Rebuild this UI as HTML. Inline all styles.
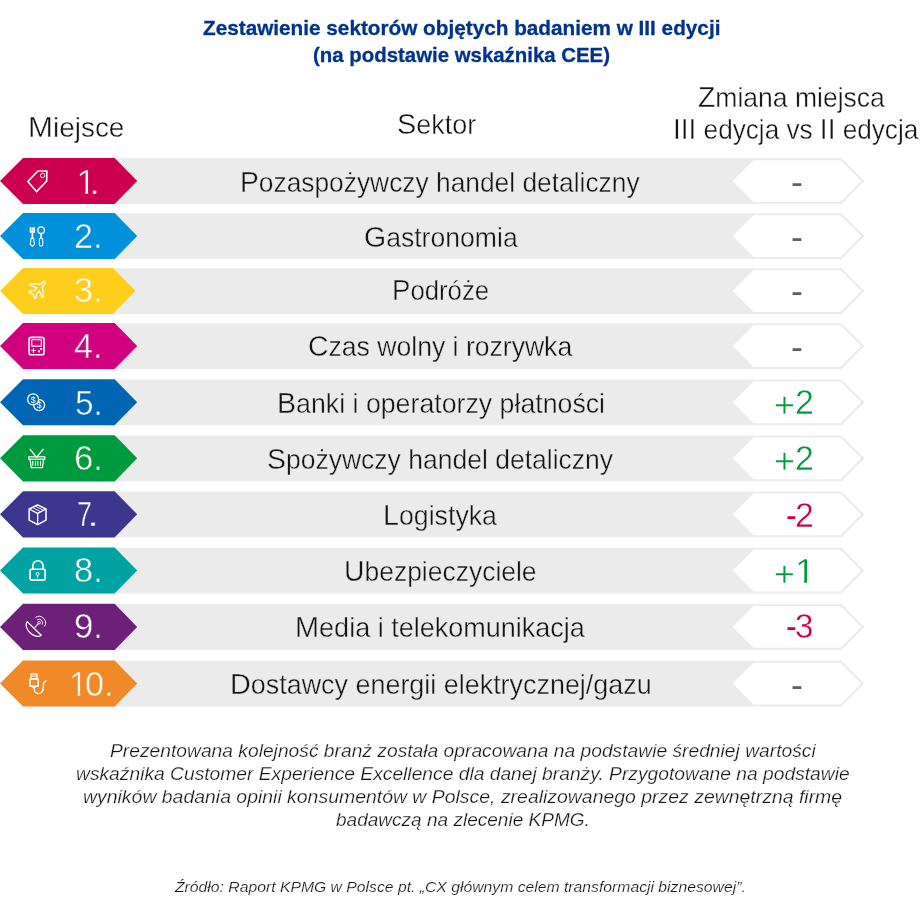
<!DOCTYPE html>
<html lang="pl"><head><meta charset="utf-8"><title>Zestawienie sektorów objętych badaniem w III edycji</title>
<style>
html,body{margin:0;padding:0;background:#fff;}
body{width:923px;height:914px;position:relative;overflow:hidden;font-family:"Liberation Sans",sans-serif;color:#141414;}
.t{position:absolute;white-space:pre;line-height:1;transform-origin:0 0;}
.p{display:inline-block;position:relative;width:0;transform-origin:0 0;}
.u{font-size:1.0714em;}
svg{position:absolute;left:0;top:0;}
</style></head><body>

<svg width="923" height="914" viewBox="0 0 923 914">
<polygon points="40,158.25 841.5,158.25 864.3,181.05 841.5,204 40,204" fill="#ebebeb"/>
<polygon points="732.8,181.05 753.6,160.25 840.4,160.25 861.3,181.05 840.4,202 753.6,202" fill="#fff"/>
<polygon points="0,181.05 23,158 114.6,158 137.2,181.05 114.6,204.1 23,204.1" fill="#cc004f"/>
<polygon points="40,213.25 841.5,213.25 864.3,236.05 841.5,259 40,259" fill="#ebebeb"/>
<polygon points="732.8,236.05 753.6,215.25 840.4,215.25 861.3,236.05 840.4,257 753.6,257" fill="#fff"/>
<polygon points="0,236.05 23,213 114.6,213 137.2,236.05 114.6,259.1 23,259.1" fill="#0091da"/>
<polygon points="40,268.25 841.5,268.25 864.3,291.05 841.5,314 40,314" fill="#ebebeb"/>
<polygon points="732.8,291.05 753.6,270.25 840.4,270.25 861.3,291.05 840.4,312 753.6,312" fill="#fff"/>
<polygon points="0,291.05 23,268 112.9,268 135.5,291.05 112.9,314.1 23,314.1" fill="#ffcd1c"/>
<polygon points="40,323.25 841.5,323.25 864.3,346.05 841.5,369 40,369" fill="#ebebeb"/>
<polygon points="732.8,346.05 753.6,325.25 840.4,325.25 861.3,346.05 840.4,367 753.6,367" fill="#fff"/>
<polygon points="0,346.05 23,323 114.6,323 137.2,346.05 114.6,369.1 23,369.1" fill="#d1007f"/>
<polygon points="40,379.5 841.5,379.5 864.3,402.3 841.5,425.25 40,425.25" fill="#ebebeb"/>
<polygon points="732.8,402.3 753.6,381.5 840.4,381.5 861.3,402.3 840.4,423.25 753.6,423.25" fill="#fff"/>
<polygon points="0,402.3 23,379.25 114.6,379.25 137.2,402.3 114.6,425.35 23,425.35" fill="#0066b3"/>
<polygon points="40,435.55 841.5,435.55 864.3,458.35 841.5,481.3 40,481.3" fill="#ebebeb"/>
<polygon points="732.8,458.35 753.6,437.55 840.4,437.55 861.3,458.35 840.4,479.3 753.6,479.3" fill="#fff"/>
<polygon points="0,458.35 23,435.3 114.6,435.3 137.2,458.35 114.6,481.4 23,481.4" fill="#009a3e"/>
<polygon points="40,491.55 841.5,491.55 864.3,514.35 841.5,537.3 40,537.3" fill="#ebebeb"/>
<polygon points="732.8,514.35 753.6,493.55 840.4,493.55 861.3,514.35 840.4,535.3 753.6,535.3" fill="#fff"/>
<polygon points="0,514.35 23,491.3 114.6,491.3 137.2,514.35 114.6,537.4 23,537.4" fill="#3c368e"/>
<polygon points="40,547.75 841.5,547.75 864.3,570.55 841.5,593.5 40,593.5" fill="#ebebeb"/>
<polygon points="732.8,570.55 753.6,549.75 840.4,549.75 861.3,570.55 840.4,591.5 753.6,591.5" fill="#fff"/>
<polygon points="0,570.55 23,547.5 114.6,547.5 137.2,570.55 114.6,593.6 23,593.6" fill="#00a3a1"/>
<polygon points="40,604.1 841.5,604.1 864.3,626.9 841.5,649.85 40,649.85" fill="#ebebeb"/>
<polygon points="732.8,626.9 753.6,606.1 840.4,606.1 861.3,626.9 840.4,647.85 753.6,647.85" fill="#fff"/>
<polygon points="0,626.9 23,603.85 114.6,603.85 137.2,626.9 114.6,649.95 23,649.95" fill="#6d2077"/>
<polygon points="40,660.65 841.5,660.65 864.3,683.45 841.5,706.4 40,706.4" fill="#ebebeb"/>
<polygon points="732.8,683.45 753.6,662.65 840.4,662.65 861.3,683.45 840.4,704.4 753.6,704.4" fill="#fff"/>
<polygon points="0,683.45 23,660.4 114.6,660.4 137.2,683.45 114.6,706.5 23,706.5" fill="#f08a29"/>
<g fill="none" stroke="#fff" stroke-linejoin="miter" stroke-linecap="butt">
<g transform="translate(0,150) scale(0.065647)">
  <polygon points="424,480 577,321 714,321 711,474 557,632" stroke-width="24"/>
  <circle cx="650" cy="388" r="33" stroke-width="15"/>
</g>
<g transform="translate(15,217) scale(0.049237)">
  <rect x="298" y="207" width="109" height="113" fill="#fff" stroke="none"/>
  <rect x="335" y="200" width="9" height="88" fill="#0091da" stroke="none" opacity="0.8"/>
  <rect x="362" y="200" width="9" height="88" fill="#0091da" stroke="none" opacity="0.8"/>
  <rect x="336" y="318" width="34" height="115" fill="#fff" stroke="none"/>
  <path d="M328,430 L378,430 L396,555 L353,596 L310,555 Z" stroke-width="22" stroke-linejoin="round"/>
  <circle cx="530" cy="268" r="66" stroke-width="26"/>
  <rect x="512" y="338" width="36" height="95" fill="#fff" stroke="none"/>
  <rect x="496" y="430" width="68" height="158" rx="28" stroke-width="22"/>
</g>
<g transform="translate(15,268) scale(0.049237)">
  <path d="M612,275 Q590,268 565,290 L520,333 L305,318 L292,345 L440,405 L385,462 L300,470 L282,495 L372,535 L400,618 L428,600 L445,515 L492,460 L548,600 L572,585 L562,372 L610,320 Q628,295 612,275 Z" stroke-width="25" stroke-linejoin="round"/>
</g>
<g transform="translate(15,323) scale(0.049237)">
  <rect x="286" y="291" width="303" height="353" rx="42" stroke-width="33"/>
  <rect x="340" y="340" width="195" height="130" rx="8" stroke-width="23"/>
  <path d="M328,560 H422 M375,513 V607" stroke-width="22"/>
  <rect x="512" y="507" width="38" height="38" fill="#fff" stroke="none"/>
  <rect x="468" y="556" width="40" height="40" fill="#fff" stroke="none"/>
</g>
<g transform="translate(15,379) scale(0.049237)">
  <circle cx="490" cy="530" r="112" stroke-width="26"/>
</g>
<text x="39.15" y="408.3" font-family="'Liberation Sans',sans-serif" font-size="8.8" fill="#fff" stroke="none" text-anchor="middle">$</text>
<g transform="translate(15,379) scale(0.049237)">
  <circle cx="368" cy="415" r="112" stroke-width="26" fill="#0066b3"/>
</g>
<text x="33.1" y="402.5" font-family="'Liberation Sans',sans-serif" font-size="8.8" fill="#fff" stroke="none" text-anchor="middle">$</text>
<g transform="translate(15,435) scale(0.049237)">
  <path d="M300,283 L437,455 L580,283" stroke-width="26"/>
  <rect x="278" y="443" width="329" height="48" stroke-width="24"/>
  <path d="M306,495 L330,664 L556,664 L582,495" stroke-width="25"/>
  <path d="M360,530 V625 M415,530 V625 M462,530 V625 M518,530 V625" stroke-width="22"/>
</g>
<g transform="translate(15,491) scale(0.049237)">
  <polygon points="460,282 630,365 630,592 460,685 287,592 287,365" stroke-width="31"/>
  <path d="M287,365 L460,455 L630,365 M460,455 V685" stroke-width="27"/>
  <path d="M346,332 L525,422 M405,305 L580,392" stroke-width="19"/>
</g>
<g transform="translate(15,547) scale(0.049237)">
  <rect x="307" y="452" width="305" height="220" rx="25" stroke-width="34"/>
  <path d="M362,445 V385 A105,105 0 0 1 572,385 V445" stroke-width="34"/>
  <circle cx="460" cy="545" r="30" stroke-width="18"/>
  <path d="M460,575 V628" stroke-width="20"/>
</g>
<g transform="translate(15,604) scale(0.049237)">
  <path d="M247,358 L533,634 A199,128 44 0 1 247,358 Z" stroke-width="25" stroke-linejoin="round"/>
  <path d="M392,493 L468,402" stroke-width="22"/>
  <circle cx="490" cy="380" r="26" stroke-width="17"/>
  <path d="M448,324 A70,70 0 0 1 548,419" stroke-width="19"/>
  <path d="M414,276 A130,130 0 0 1 596,456" stroke-width="20"/>
</g>
<g transform="translate(15,660) scale(0.049237)">
  <rect x="328" y="283" width="119" height="95" stroke-width="28"/>
  <rect x="356" y="310" width="22" height="34" fill="#fff" stroke="none"/>
  <rect x="398" y="310" width="22" height="34" fill="#fff" stroke="none"/>
  <rect x="304" y="384" width="167" height="150" rx="8" stroke-width="30"/>
  <rect x="355" y="540" width="60" height="34" fill="#fff" stroke="none"/>
  <path d="M385,570 C385,640 430,682 475,682 C540,682 575,620 575,540 C575,470 590,430 628,422" stroke-width="27" stroke-linecap="round"/>
</g>
</g>

</svg>
<div class="t" style="left:202.79px;top:18px;color:#00338d;transform:scaleX(1.0115);font-size:20.5px;font-weight:bold;-webkit-text-stroke:0.3px #00338d;">Zestawienie sektorów objętych badaniem w III edycji</div>
<div class="t" style="left:313.35px;top:45px;color:#00338d;transform:scaleX(0.9951);font-size:20.5px;font-weight:bold;-webkit-text-stroke:0.3px #00338d;">(na podstawie wskaźnika CEE)</div>
<div class="t" style="left:27.55px;top:112px;color:#141414;transform:scaleX(0.9984);font-size:28px;-webkit-text-stroke:0.4px #fff;"><span class="u">M</span>iejsce</div>
<div class="t" style="left:396.52px;top:109px;color:#141414;transform:scaleX(0.9618);font-size:28px;-webkit-text-stroke:0.4px #fff;"><span class="u">S</span>ektor</div>
<div class="t" style="left:698.42px;top:82px;color:#141414;transform:scaleX(0.9471);font-size:28px;-webkit-text-stroke:0.4px #fff;"><span class="u">Z</span>miana miejsca</div>
<div class="t" style="left:672.9px;top:114px;color:#141414;transform:scaleX(0.9337);font-size:28px;-webkit-text-stroke:0.4px #fff;"><span class="u">III</span> edycja vs <span class="u">II</span> edycja</div>
<div class="t" style="left:240.41px;top:167px;color:#141414;transform:scaleX(0.9409);font-size:28px;-webkit-text-stroke:0.4px #ebebeb;"><span class="u">P</span>ozaspożywczy handel detaliczny</div>
<div class="t" style="left:363.54px;top:222px;color:#141414;transform:scaleX(0.9496);font-size:28px;-webkit-text-stroke:0.4px #ebebeb;"><span class="u">G</span>astronomia</div>
<div class="t" style="left:392.07px;top:275px;color:#141414;transform:scaleX(0.9192);font-size:28px;-webkit-text-stroke:0.4px #ebebeb;"><span class="u">P</span>odróże</div>
<div class="t" style="left:308.14px;top:331px;color:#141414;transform:scaleX(0.9490);font-size:28px;-webkit-text-stroke:0.4px #ebebeb;"><span class="u">C</span>zas wolny i rozrywka</div>
<div class="t" style="left:276.78px;top:388px;color:#141414;transform:scaleX(0.9544);font-size:28px;-webkit-text-stroke:0.4px #ebebeb;"><span class="u">B</span>anki i operatorzy płatności</div>
<div class="t" style="left:267.04px;top:444px;color:#141414;transform:scaleX(0.9467);font-size:28px;-webkit-text-stroke:0.4px #ebebeb;"><span class="u">S</span>pożywczy handel detaliczny</div>
<div class="t" style="left:382.78px;top:500px;color:#141414;transform:scaleX(0.9545);font-size:28px;-webkit-text-stroke:0.4px #ebebeb;"><span class="u">L</span>ogistyka</div>
<div class="t" style="left:344.14px;top:556px;color:#141414;transform:scaleX(0.9452);font-size:28px;-webkit-text-stroke:0.4px #ebebeb;"><span class="u">U</span>bezpieczyciele</div>
<div class="t" style="left:294.65px;top:612px;color:#141414;transform:scaleX(0.9644);font-size:28px;-webkit-text-stroke:0.4px #ebebeb;"><span class="u">M</span>edia i telekomunikacja</div>
<div class="t" style="left:229.86px;top:669px;color:#141414;transform:scaleX(0.9611);font-size:28px;-webkit-text-stroke:0.4px #ebebeb;"><span class="u">D</span>ostawcy energii elektrycznej/gazu</div>
<div class="t" style="left:75.76px;top:164px;color:#fff;font-size:35px;"><span class="p" style="transform:scaleX(1.0500);-webkit-text-stroke:0.5px #cc004f;clip-path:polygon(0.09em -1em, 0.334em -1em, 0.334em 2em, 0.2515em 2em, 0.2515em 0.72em, 0.09em 0.72em);">1</span><span class="p" style="transform:scaleX(1.1636);margin-left:13.46px;-webkit-text-stroke:0.5px #cc004f;">.</span></div>
<div class="t" style="left:74.15px;top:218px;color:#fff;font-size:35px;"><span class="p" style="transform:scaleX(0.9768);-webkit-text-stroke:0.5px #0091da;">2.</span></div>
<div class="t" style="left:73.98px;top:272px;color:#fff;font-size:35px;"><span class="p" style="transform:scaleX(0.9833);-webkit-text-stroke:0.5px #ffcd1c;">3.</span></div>
<div class="t" style="left:74.23px;top:328px;color:#fff;font-size:35px;"><span class="p" style="transform:scaleX(0.9737);-webkit-text-stroke:0.5px #d1007f;">4.</span></div>
<div class="t" style="left:74.73px;top:385px;color:#fff;font-size:35px;"><span class="p" style="transform:scaleX(0.9542);-webkit-text-stroke:0.5px #0066b3;">5.</span></div>
<div class="t" style="left:73.71px;top:440px;color:#fff;font-size:35px;"><span class="p" style="transform:scaleX(0.9937);-webkit-text-stroke:0.5px #009a3e;">6.</span></div>
<div class="t" style="left:76.56px;top:496px;color:#fff;font-size:35px;"><span class="p" style="transform:scaleX(0.7677);-webkit-text-stroke:0.5px #3c368e;">7</span><span class="p" style="transform:scaleX(1.2364);margin-left:10.21px;-webkit-text-stroke:0.5px #3c368e;">.</span></div>
<div class="t" style="left:73.98px;top:552px;color:#fff;font-size:35px;"><span class="p" style="transform:scaleX(0.9833);-webkit-text-stroke:0.5px #00a3a1;">8.</span></div>
<div class="t" style="left:73.71px;top:608px;color:#fff;font-size:35px;"><span class="p" style="transform:scaleX(0.9937);-webkit-text-stroke:0.5px #6d2077;">9.</span></div>
<div class="t" style="left:69.14px;top:666px;color:#fff;font-size:35px;"><span class="p" style="transform:scaleX(0.9750);-webkit-text-stroke:0.5px #f08a29;clip-path:polygon(0.09em -1em, 0.334em -1em, 0.334em 2em, 0.2515em 2em, 0.2515em 0.72em, 0.09em 0.72em);">1</span><span class="p" style="transform:scaleX(0.9792);margin-left:15.64px;-webkit-text-stroke:0.5px #f08a29;">0.</span></div>
<div class="t" style="left:791.26px;top:164px;color:#5f5f5f;font-size:35px;"><span class="p" style="transform:scaleX(1.0235);">-</span></div>
<div class="t" style="left:791.26px;top:219px;color:#5f5f5f;font-size:35px;"><span class="p" style="transform:scaleX(1.0235);">-</span></div>
<div class="t" style="left:791.26px;top:273px;color:#5f5f5f;font-size:35px;"><span class="p" style="transform:scaleX(1.0235);">-</span></div>
<div class="t" style="left:791.26px;top:329px;color:#5f5f5f;font-size:35px;"><span class="p" style="transform:scaleX(1.0235);">-</span></div>
<div class="t" style="left:774.15px;top:384px;color:#009a3e;font-size:35px;"><span class="p" style="transform:scaleX(1.0242);top:3px;-webkit-text-stroke:0.35px #fff;">+</span><span class="p" style="transform:scaleX(0.9677);margin-left:20.91px;-webkit-text-stroke:0.35px #fff;">2</span></div>
<div class="t" style="left:774.15px;top:440px;color:#009a3e;font-size:35px;"><span class="p" style="transform:scaleX(1.0242);top:3px;-webkit-text-stroke:0.35px #fff;">+</span><span class="p" style="transform:scaleX(0.9677);margin-left:20.91px;-webkit-text-stroke:0.35px #fff;">2</span></div>
<div class="t" style="left:785.52px;top:497px;color:#c9004b;font-size:35px;"><span class="p" style="transform:scaleX(0.9176);">-</span><span class="p" style="transform:scaleX(0.9677);margin-left:9.14px;-webkit-text-stroke:0.35px #fff;">2</span></div>
<div class="t" style="left:774.36px;top:553px;color:#009a3e;font-size:35px;"><span class="p" style="transform:scaleX(1.0182);top:3px;-webkit-text-stroke:0.35px #fff;">+</span><span class="p" style="transform:scaleX(1.0303);margin-left:20.93px;-webkit-text-stroke:0.35px #fff;clip-path:polygon(0.09em -1em, 0.334em -1em, 0.334em 2em, 0.2515em 2em, 0.2515em 0.72em, 0.09em 0.72em);">1</span></div>
<div class="t" style="left:785.52px;top:608px;color:#c9004b;font-size:35px;"><span class="p" style="transform:scaleX(0.9176);">-</span><span class="p" style="transform:scaleX(0.9477);margin-left:9.65px;-webkit-text-stroke:0.35px #fff;">3</span></div>
<div class="t" style="left:791.26px;top:667px;color:#5f5f5f;font-size:35px;"><span class="p" style="transform:scaleX(1.0235);">-</span></div>
<div class="t" style="left:109.92px;top:742px;color:#141414;transform:scaleX(1.0345);font-size:18.6px;font-style:italic;-webkit-text-stroke:0.25px #fff;">Prezentowana kolejność branż została opracowana na podstawie średniej wartości</div>
<div class="t" style="left:75.67px;top:765px;color:#141414;transform:scaleX(1.0344);font-size:18.6px;font-style:italic;-webkit-text-stroke:0.25px #fff;">wskaźnika Customer Experience Excellence dla danej branży. Przygotowane na podstawie</div>
<div class="t" style="left:83.26px;top:788px;color:#141414;transform:scaleX(1.0448);font-size:18.6px;font-style:italic;-webkit-text-stroke:0.25px #fff;">wyników badania opinii konsumentów w Polsce, zrealizowanego przez zewnętrzną firmę</div>
<div class="t" style="left:335.99px;top:811px;color:#141414;transform:scaleX(1.0233);font-size:18.6px;font-style:italic;-webkit-text-stroke:0.25px #fff;">badawczą na zlecenie KPMG.</div>
<div class="t" style="left:175px;top:879px;color:#141414;transform:scaleX(1.0356);font-size:15.2px;font-style:italic;-webkit-text-stroke:0.2px #fff;">Źródło: Raport KPMG w Polsce pt. „CX głównym celem transformacji biznesowej”.</div>
</body></html>
